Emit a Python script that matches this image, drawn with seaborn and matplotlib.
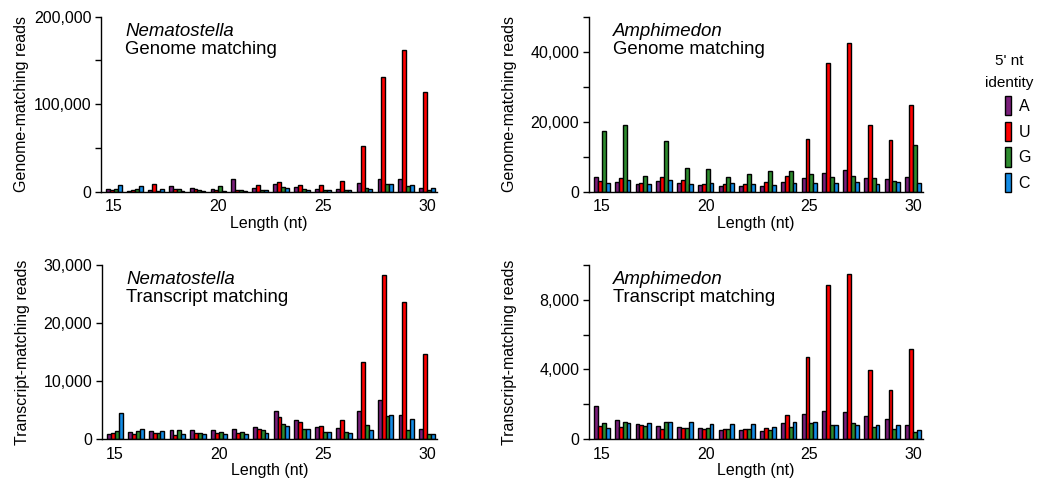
import pandas as pd
import matplotlib.pyplot as plt
import seaborn as sns
from matplotlib.patches import Patch
from matplotlib.ticker import FuncFormatter, MultipleLocator

# Read lengths (nt) and read counts per 5' nucleotide
lengths = list(range(15, 31))
nts = ["A", "U", "G", "C"]
nt_colors = ["#7b1f7b", "#ff0000", "#2e8b2e", "#138ce6"]

nem_gen_A = [2700, 1000, 2000, 6000, 4500, 3000, 15000, 3800, 9000, 5000, 3000, 3000, 10000, 14000, 14500, 4200]
nem_gen_U = [2000, 1500, 9000, 2700, 3000, 1500, 2300, 8000, 11000, 8000, 7600, 12000, 52700, 131000, 162000, 114000]
nem_gen_G = [3000, 2700, 700, 2700, 1500, 6000, 1500, 2300, 5000, 3400, 2300, 2300, 3800, 9000, 6500, 2300]
nem_gen_C = [8000, 7000, 3000, 1000, 400, 700, 1000, 1500, 4200, 2300, 1500, 1500, 3400, 9000, 8000, 3800]

amp_gen_A = [4200, 2900, 2300, 3100, 2500, 1900, 1500, 1500, 1500, 2900, 3900, 5400, 6200, 3900, 3500, 4100]
amp_gen_U = [3100, 3800, 2400, 4100, 3300, 2300, 2300, 2200, 2900, 4400, 15000, 37000, 42700, 19000, 14700, 24900]
amp_gen_G = [17300, 19100, 4400, 14500, 6900, 6500, 4100, 5100, 5900, 5800, 5100, 4200, 4400, 3800, 3100, 13500]
amp_gen_C = [2500, 3300, 2300, 3300, 2300, 2500, 2500, 2200, 1900, 2600, 2500, 2600, 2800, 2300, 2900, 2600]

nem_tx_A = [860, 1200, 1300, 1550, 1500, 1550, 1700, 2100, 4900, 3200, 2000, 1950, 4800, 6800, 4200, 1700]
nem_tx_U = [1000, 860, 1000, 700, 1000, 1000, 1100, 1800, 3800, 2900, 2200, 3200, 13300, 28200, 23700, 14700]
nem_tx_G = [1300, 1300, 1000, 1550, 1000, 1200, 1200, 1500, 2600, 1700, 1200, 1200, 2350, 4000, 1550, 800]
nem_tx_C = [4400, 1700, 1400, 800, 860, 800, 800, 1000, 2200, 1700, 1150, 1000, 1550, 4100, 3500, 800]

amp_tx_A = [1900, 1100, 840, 750, 670, 610, 520, 500, 460, 940, 1450, 1600, 1550, 1320, 1130, 800]
amp_tx_U = [730, 670, 780, 570, 610, 550, 570, 570, 610, 1400, 4720, 8830, 9500, 3970, 2830, 5180]
amp_tx_G = [920, 1000, 730, 1000, 610, 610, 570, 550, 500, 710, 920, 780, 920, 670, 550, 380]
amp_tx_C = [610, 940, 900, 960, 960, 840, 860, 860, 710, 970, 970, 780, 780, 800, 800, 520]


def to_long(a, u, g, c):
    rows = []
    for nt, vals in zip(nts, [a, u, g, c]):
        for ln, v in zip(lengths, vals):
            rows.append({"length": ln, "nt": nt, "reads": v})
    return pd.DataFrame(rows)


sns.set_style("ticks")
plt.rcParams["font.family"] = ["Liberation Sans", "DejaVu Sans"]
for key in ["text.color", "axes.labelcolor", "xtick.color", "ytick.color", "axes.edgecolor"]:
    plt.rcParams[key] = "black"

fig = plt.figure(figsize=(10.37, 4.86), dpi=100)

panels = [
    # data, axes rect, species, kind, ylabel, ymax, major, minor
    (to_long(nem_gen_A, nem_gen_U, nem_gen_G, nem_gen_C), [0.0974, 0.6056, 0.324, 0.360],
     "Nematostella", "Genome matching", "Genome-matching reads", 200000, 100000, 50000),
    (to_long(amp_gen_A, amp_gen_U, amp_gen_G, amp_gen_C), [0.568, 0.6056, 0.322, 0.359],
     "Amphimedon", "Genome matching", "Genome-matching reads", 50000, 20000, 10000),
    (to_long(nem_tx_A, nem_tx_U, nem_tx_G, nem_tx_C), [0.0984, 0.0967, 0.323, 0.358],
     "Nematostella", "Transcript matching", "Transcript-matching reads", 30000, 10000, None),
    (to_long(amp_tx_A, amp_tx_U, amp_tx_G, amp_tx_C), [0.568, 0.0967, 0.322, 0.358],
     "Amphimedon", "Transcript matching", "Transcript-matching reads", 10000, 4000, 2000),
]

for df, rect, species, kind, ylab, ymax, major, minor in panels:
    ax = fig.add_axes(rect)
    sns.barplot(data=df, x="length", y="reads", hue="nt", hue_order=nts,
                palette=nt_colors, saturation=1, native_scale=True, width=0.75,
                errorbar=None, edgecolor="black", linewidth=1.0, legend=False, ax=ax)
    sns.despine(ax=ax)
    ax.set_xlim(14.38, 30.47)
    ax.set_ylim(0, ymax)
    ax.set_xticks([15, 20, 25, 30])
    ax.set_xticklabels(["15", "20", "25", "30"])
    ax.yaxis.set_major_locator(MultipleLocator(major))
    if minor:
        ax.yaxis.set_minor_locator(MultipleLocator(minor))
    ax.yaxis.set_major_formatter(FuncFormatter(lambda v, p: f"{v:,.0f}"))
    ax.tick_params(axis="x", length=0, pad=5.5, labelsize=11.5)
    ax.tick_params(axis="y", which="both", length=4, width=1.0, direction="out", labelsize=11.5, pad=3)
    for s in ["left", "bottom"]:
        ax.spines[s].set_linewidth(1.0)
    ax.set_xlabel("Length (nt)", fontsize=11.5, labelpad=1)
    ax.set_ylabel(ylab, fontsize=11.5)
    ax.yaxis.set_label_coords(-0.215, 0.5)
    ax.text(0.072, 0.892, species, transform=ax.transAxes, fontsize=13.4,
            style="italic", va="baseline", ha="left")
    ax.text(0.072, 0.789, kind, transform=ax.transAxes, fontsize=13.4,
            va="baseline", ha="left")

# legend for 5' nucleotide identity
fig.text(1009.5 / 1037, 1 - 65 / 486, "5' nt", ha="center", va="baseline", fontsize=11)
fig.text(1009.5 / 1037, 1 - 87 / 486, "identity", ha="center", va="baseline", fontsize=11)
handles = [Patch(facecolor=c, edgecolor="black", linewidth=1.0) for c in nt_colors]
fig.legend(handles, nts, loc="upper left", bbox_to_anchor=(1005 / 1037, 1 - 96 / 486),
           frameon=False, fontsize=11.5, handlelength=0.4, handleheight=1.5,
           labelspacing=0.38, handletextpad=0.45, borderpad=0, borderaxespad=0)

plt.savefig("out.png", dpi=100)
